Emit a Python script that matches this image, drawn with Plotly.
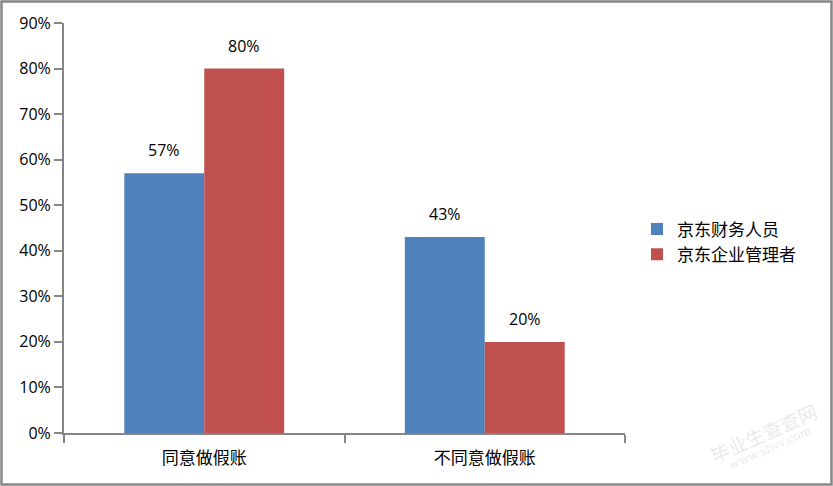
import plotly.graph_objects as go

categories = ["同意做假账", "不同意做假账"]
series_names = ["京东财务人员", "京东企业管理者"]
finance_staff = [0.57, 0.43]
managers = [0.80, 0.20]
colors = ["#4F81BD", "#C0504D"]

W, H = 833, 486
L, R, T, B = 64, 208, 23, 53
pw, ph = W - L - R, H - T - B
bar_px = 80  # pixel width of one bar

fig = go.Figure()
for name, vals, c in zip(series_names, [finance_staff, managers], colors):
    fig.add_trace(go.Bar(
        x=categories, y=vals, name=name, marker=dict(color=c, line=dict(width=0)),
    ))

label_font = dict(family="Open Sans, Liberation Sans, sans-serif", size=16, color="#000000")
for i, vals in enumerate([finance_staff, managers]):
    for cat, v in zip(categories, vals):
        fig.add_annotation(x=cat, y=v, xref="x", yref="y", text=f"{v:.0%}", showarrow=False,
                           xshift=(i - 0.5) * bar_px, yshift=23, font=label_font)

fig.update_layout(
    width=W, height=H,
    margin=dict(l=L, r=R, t=T, b=B, autoexpand=False),
    paper_bgcolor="white", plot_bgcolor="white",
    barmode="group", bargap=0.43, bargroupgap=0,
    showlegend=True,
    legend=dict(x=(637 - L) / pw, y=(H - B - 242) / ph, xanchor="left", yanchor="middle",
                font=dict(family="Noto Sans CJK SC", size=17, color="#000000"),
                itemwidth=30, tracegroupgap=6, bgcolor="rgba(0,0,0,0)"),
    xaxis=dict(showline=True, linecolor="#868686", linewidth=2, ticks="outside",
               tickson="boundaries", ticklen=8, tickcolor="#868686", tickwidth=2,
               ticklabelstandoff=9,
               tickfont=dict(family="Noto Sans CJK SC", size=17, color="#000000"),
               showgrid=False),
    yaxis=dict(range=[0, 0.9], dtick=0.1, tickformat=".0%", showline=True,
               linecolor="#868686", linewidth=2, ticks="outside", ticklen=8,
               tickcolor="#868686", tickwidth=2, showgrid=False, zeroline=False,
               tickfont=dict(family="Open Sans, Liberation Sans, sans-serif", size=16, color="#000000")),
    font=dict(family="Noto Sans CJK SC"),
)

# outer chart border
fig.add_shape(type="rect", xref="paper", yref="paper",
              x0=(1.5 - L) / pw, x1=(W - 1.5 - L) / pw,
              y0=-(B - 1.5) / ph, y1=(H - B - 1.5) / ph,
              line=dict(color="#868686", width=2.5), fillcolor="rgba(0,0,0,0)", layer="below")

# watermark
fig.add_annotation(xref="paper", yref="paper", x=(763 - L) / pw, y=(H - B - 432) / ph,
                   xanchor="center", yanchor="middle",
                   text="毕业生查查网", showarrow=False, textangle=-24,
                   font=dict(family="Noto Sans CJK SC", size=19, color="rgba(150,150,150,0.22)"))
fig.add_annotation(xref="paper", yref="paper", x=(770 - L) / pw, y=(H - B - 448) / ph,
                   xanchor="center", yanchor="middle",
                   text="www.sbvv.com", showarrow=False, textangle=-24,
                   font=dict(family="DejaVu Serif", size=12, color="rgba(150,150,150,0.22)"))

fig.write_html("out.html", config={"displayModeBar": False},
               post_script="document.body.style.margin='0';document.body.style.overflow='hidden';")
